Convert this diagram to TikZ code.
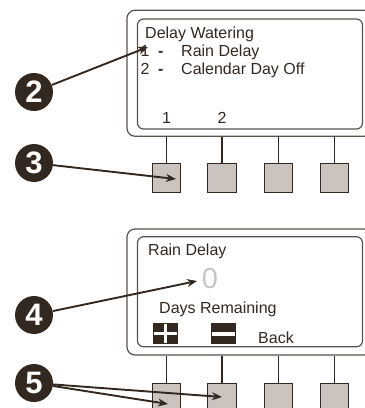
\documentclass[tikz,border=0pt]{standalone}
\usepackage{fontspec}
\setmainfont{Liberation Sans}
\usetikzlibrary{arrows.meta}
\definecolor{ink}{HTML}{33281F}
\definecolor{frame}{HTML}{5C524B}
\definecolor{keyfill}{HTML}{CBC3BD}
\definecolor{dimdigit}{HTML}{C9C5C1}
\tikzset{
  housing/.style={draw=frame, line width=1.2pt, rounded corners=8pt, minimum width=245pt, minimum height=126pt, inner sep=0pt},
  screen/.style={draw=frame, line width=1.2pt, rounded corners=6pt, minimum width=225pt, minimum height=110pt, inner sep=0pt},
  key/.style={draw=ink, line width=1.1pt, fill=keyfill, minimum width=28.5pt, minimum height=29.5pt, inner sep=0pt},
  stem/.style={draw=ink, line width=1.1pt},
  bubble/.style={circle, fill=ink, minimum size=38pt, inner sep=0pt, text=white, font=\fontsize{31}{31}\selectfont\bfseries},
  callout/.style={draw=ink, line width=1.9pt, -{Stealth[length=10pt,width=8pt]}},
  lcd/.style={anchor=base west, inner sep=0pt, text=ink, font=\fontsize{16}{18}\selectfont},
  softkey/.style={anchor=base, inner sep=0pt, text=ink, font=\fontsize{16}{18}\selectfont},
  icon/.style={fill=ink, minimum width=25pt, minimum height=21pt, inner sep=0pt},
}
\begin{document}
\begin{tikzpicture}[x=1pt, y=-1pt]
\useasboundingbox (0,0) rectangle (365,408);
\clip (0,0) rectangle (365,408);

% ---- upper controller: Delay Watering menu ----
\node[housing] (box1) at (249.5,73.25) {};
\node[screen] (lcd1) at (250,74) {};
\node[lcd] (t0) at (145,38) {Delay Watering};
\node[lcd] (n1) at (140.5,56) {1};
\node[lcd] (d1) at (158,56) {\bfseries -};
\node[lcd] (t1) at (181,56) {Rain Delay};
\node[lcd] (n2) at (140.5,74) {2};
\node[lcd] (d2) at (158,74) {\bfseries -};
\node[lcd] (t2) at (181,74) {Calendar Day Off};
\node[softkey] (s1) at (166.5,123) {1};
\node[softkey] (s2) at (222,123) {2};

\foreach \i/\x in {1/166.5, 2/222, 3/278.5, 4/334.5} {
  \node[key] (ka\i) at (\x,178) {};
  \draw[stem] (ka\i.north) -- (ka\i.north |- box1.south);
}

% ---- lower controller: Rain Delay screen ----
\node[housing] (box2) at (249.5,292) {};
\node[screen] (lcd2) at (250,291.75) {};
\node[lcd] (r0) at (148,255) {Rain Delay};
\node[anchor=base, inner sep=0pt, text=dimdigit, font=\fontsize{29}{30}\selectfont] (zero) at (210,288) {0};
\node[lcd] (r1) at (159,313) {Days Remaining};
\node[icon] (plus) at (165.5,333.5) {};
\fill[white] ([xshift=-1.6pt,yshift=-1.5pt]plus.north) rectangle ([xshift=1.6pt,yshift=1.5pt]plus.south);
\fill[white] ([xshift=1.5pt,yshift=-1.6pt]plus.west) rectangle ([xshift=-1.5pt,yshift=1.6pt]plus.east);
\node[icon] (minus) at (223.5,333.5) {};
\fill[white] ([xshift=1.5pt,yshift=-2pt]minus.west) rectangle ([xshift=-1.5pt,yshift=2pt]minus.east);
\node[lcd] (back) at (258,343) {Back};

\foreach \i/\x in {1/166.5, 2/222, 3/278.5, 4/334.5} {
  \node[key] (kb\i) at (\x,398) {};
  \draw[stem] (kb\i.north) -- (kb\i.north |- box2.south);
}

% ---- numbered callouts ----
\node[bubble] (b2) at (34,92) {2};
\node[bubble] (b3) at (34,163) {3};
\node[bubble] (b4) at (34,315) {4};
\node[bubble] (b5) at (34,383) {5};

\coordinate (p2) at (148,47);
\coordinate (p3) at (176,179);
\coordinate (p4) at (197,281);
\coordinate (p5a) at (168,404);
\coordinate (p5b) at (222,397);

\draw[callout] (b2) -- (p2);
\draw[callout] (b3) -- (p3);
\draw[callout] (b4) -- (p4);
\draw[callout] (b5) -- (p5a);
\draw[callout] (b5) -- (p5b);
\end{tikzpicture}
\end{document}
